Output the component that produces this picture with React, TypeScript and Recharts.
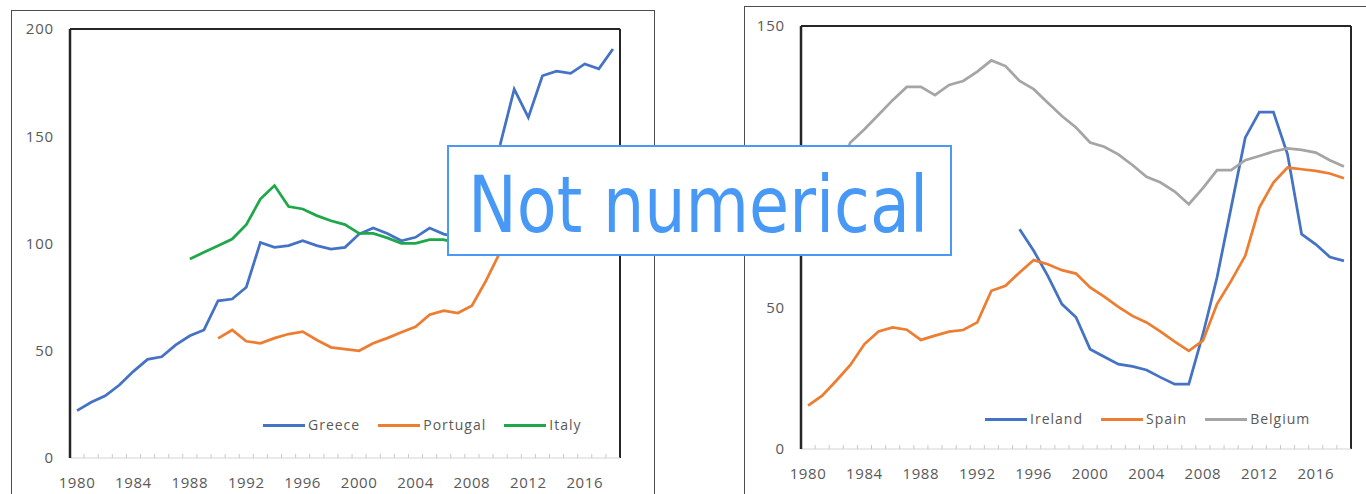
import React from "react";
import { Legend, Line, LineChart, ReferenceLine, XAxis, YAxis } from "recharts";

const years = [
  1980, 1981, 1982, 1983, 1984, 1985, 1986, 1987, 1988, 1989,
  1990, 1991, 1992, 1993, 1994, 1995, 1996, 1997, 1998, 1999,
  2000, 2001, 2002, 2003, 2004, 2005, 2006, 2007, 2008, 2009,
  2010, 2011, 2012, 2013, 2014, 2015, 2016, 2017, 2018,
];

// left panel
const greece = [
  22.1, 26, 29, 34, 40.4, 46, 47.2, 52.7, 57, 59.7,
  73.3, 74.1, 79.6, 100.5, 98.2, 99, 101.3, 99, 97.4, 98.2,
  104.4, 107.2, 104.7, 101.3, 102.9, 107.2, 104.4, 103, 109, 127,
  146, 172, 158.8, 178.2, 180.3, 179.3, 183.7, 181.4, 190.7,
];
const portugal = [
  null, null, null, null, null, null, null, null, null, null,
  55.8, 59.7, 54.4, 53.5, 55.9, 57.8, 58.9, 55, 51.6, 50.8,
  50, 53.5, 55.9, 58.6, 61.2, 66.8, 68.7, 67.6, 71, 82.7,
  96, 111, 126, 129, 130, 129, 130, 125, 121,
];
const italy = [
  null, null, null, null, null, null, null, null, 92.8, 95.9,
  99, 102.1, 108.8, 120.7, 127, 117.2, 116.1, 113, 110.6, 108.8,
  104.7, 104.7, 102.6, 100.1, 100.1, 101.8, 101.8, 100, 103, 112,
  115, 117, 123, 129, 132, 132, 131, 131, 132,
];

// right panel
const ireland = [
  null, null, null, null, null, null, null, null, null, null,
  null, null, null, null, null, 77.9, 70.3, 61.4, 51.4, 46.7,
  35.4, 32.7, 30.1, 29.3, 28, 25.4, 23, 23, 40.7, 60.8,
  85.6, 110.4, 119.5, 119.5, 104.5, 76.2, 72.6, 68.1, 66.7,
];
const spain = [
  15.4, 18.9, 24.2, 29.8, 37.2, 41.7, 43.1, 42.3, 38.7, 40.2,
  41.6, 42.2, 44.9, 56.1, 57.9, 62.6, 67, 65.5, 63.4, 62.2,
  57.3, 54, 50.4, 47.2, 44.9, 41.6, 38.1, 34.8, 38.4, 51.4,
  59.6, 68.5, 85.6, 94.5, 99.8, 99.2, 98.6, 97.7, 96,
];
const belgium = [
  75, 86, 98, 108.7, 113.4, 118.5, 123.7, 128.4, 128.4, 125.5,
  129.1, 130.5, 133.8, 137.8, 135.8, 130.5, 127.6, 122.8, 118.1, 114,
  108.7, 107.2, 104.5, 100.7, 96.5, 94.5, 91.3, 86.8, 92.5, 98.9,
  98.9, 102.4, 103.9, 105.5, 106.6, 106.1, 105.1, 102.4, 100.2,
];

const leftTicks = [0, 50, 100, 150, 200];
const rightTicks = [0, 50, 100, 150];
const legendOrder = ["Greece", "Portugal", "Italy", "Ireland", "Spain", "Belgium"];

const leftData = years.map((year, i) => ({
  year,
  greece: greece[i],
  portugal: portugal[i],
  italy: italy[i],
}));
const rightData = years.map((year, i) => ({
  year,
  ireland: ireland[i],
  spain: spain[i],
  belgium: belgium[i],
}));

const FONT = "'Open Sans', sans-serif";
const TEXT = "#595959";
const FRAME = "#262626";
const X_DOMAIN = [1979.5, 2018.5];
const HALF_BAND = 550 / 39 / 2;

const YearTick = ({ x, y, payload }: any) => {
  const year = payload.value;
  return (
    <g>
      {year < 2018 && (
        <line x1={x + HALF_BAND} x2={x + HALF_BAND} y1={y} y2={y - 4} stroke="#c8c8c8" />
      )}
      {(year - 1980) % 4 === 0 && (
        <text
          x={x}
          y={y + 24}
          textAnchor="middle"
          dominantBaseline="central"
          fill={TEXT}
          fontSize={15}
          fontFamily={FONT}
          letterSpacing={0.6}
        >
          {year}
        </text>
      )}
    </g>
  );
};

const LegendContent = ({ payload }: any) => {
  const items = [...(payload || [])].sort(
    (a: any, b: any) => legendOrder.indexOf(a.value) - legendOrder.indexOf(b.value)
  );
  return (
    <div style={{ display: "flex", alignItems: "center", gap: 18 }}>
      {items.map((entry: any) => (
        <div key={entry.value} style={{ display: "flex", alignItems: "center" }}>
          <span style={{ display: "inline-block", width: 42, height: 3, background: entry.color, marginRight: 3 }} />
          <span style={{ fontFamily: FONT, fontSize: 14, color: TEXT, letterSpacing: 1, lineHeight: "20px" }}>
            {entry.value}
          </span>
        </div>
      ))}
    </div>
  );
};

const xAxisCommon = {
  dataKey: "year",
  type: "number" as const,
  domain: X_DOMAIN,
  ticks: years,
  interval: 0,
  tickLine: false,
  tickSize: 0,
  tickMargin: 0,
  tick: <YearTick />,
  axisLine: { stroke: "#d4d4d4", strokeWidth: 1 },
};

const yTickStyle = { fill: TEXT, fontSize: 15, fontFamily: FONT, letterSpacing: 0.8 };

export default function App() {
  return (
    <div style={{ position: "fixed", left: 0, top: 0, width: 1366, height: 494, overflow: "hidden", background: "#fff" }}>
      {/* outer frames */}
      <div style={{ position: "absolute", left: 11, top: 10, width: 642, height: 520, border: "1.5px solid #4d4d4d" }} />
      <div style={{ position: "absolute", left: 744, top: 6, width: 700, height: 520, border: "1.5px solid #4d4d4d" }} />

      <div style={{ position: "absolute", left: 0, top: 0 }}>
        <LineChart width={660} height={494} data={leftData} margin={{ top: 29, right: 40, bottom: 0, left: 0 }}>
          <XAxis {...xAxisCommon} height={36} />
          <YAxis
            width={70}
            domain={[0, 200]}
            ticks={leftTicks}
            tickLine={false}
            tickSize={0}
            tickMargin={16}
            axisLine={{ stroke: FRAME, strokeWidth: 2.5 }}
            tick={yTickStyle}
          />
          <ReferenceLine y={200} stroke={FRAME} strokeWidth={2} />
          <ReferenceLine x={2018.5} stroke={FRAME} strokeWidth={2} />
          <Legend
            layout="horizontal"
            verticalAlign="middle"
            align="center"
            content={<LegendContent />}
            wrapperStyle={{ left: 263, top: 415, width: "auto" }}
          />
          <Line dataKey="greece" name="Greece" type="linear" stroke="#4472C4" strokeWidth={2.75} dot={false} isAnimationActive={false} />
          <Line dataKey="portugal" name="Portugal" type="linear" stroke="#ED7D31" strokeWidth={2.75} dot={false} isAnimationActive={false} />
          <Line dataKey="italy" name="Italy" type="linear" stroke="#1FA84A" strokeWidth={2.75} dot={false} isAnimationActive={false} />
        </LineChart>
      </div>

      <div style={{ position: "absolute", left: 700, top: 0 }}>
        <LineChart width={666} height={494} data={rightData} margin={{ top: 26, right: 15, bottom: 0, left: 0 }}>
          <XAxis {...xAxisCommon} height={45} />
          <YAxis
            width={101}
            domain={[0, 150]}
            ticks={rightTicks}
            tickLine={false}
            tickSize={0}
            tickMargin={16}
            axisLine={{ stroke: FRAME, strokeWidth: 2.5 }}
            tick={yTickStyle}
          />
          <ReferenceLine y={150} stroke={FRAME} strokeWidth={2} />
          <ReferenceLine x={2018.5} stroke={FRAME} strokeWidth={2} />
          <Legend
            layout="horizontal"
            verticalAlign="middle"
            align="center"
            content={<LegendContent />}
            wrapperStyle={{ left: 285, top: 409, width: "auto" }}
          />
          <Line dataKey="ireland" name="Ireland" type="linear" stroke="#4472C4" strokeWidth={2.75} dot={false} isAnimationActive={false} />
          <Line dataKey="spain" name="Spain" type="linear" stroke="#ED7D31" strokeWidth={2.75} dot={false} isAnimationActive={false} />
          <Line dataKey="belgium" name="Belgium" type="linear" stroke="#A5A5A5" strokeWidth={2.75} dot={false} isAnimationActive={false} />
        </LineChart>
      </div>

      {/* overlay label */}
      <div
        style={{
          position: "absolute",
          left: 447,
          top: 145,
          width: 501,
          height: 107,
          border: "2px solid #4A9AF5",
          background: "#fff",
        }}
      >
        <svg width={501} height={107} style={{ display: "block" }}>
          <text
            x={19}
            y={85}
            fontFamily="'DejaVu Sans', sans-serif"
            fontSize={78}
            fill="#4899F5"
            textLength={460}
            lengthAdjust="spacingAndGlyphs"
          >
            Not numerical
          </text>
        </svg>
      </div>
    </div>
  );
}
